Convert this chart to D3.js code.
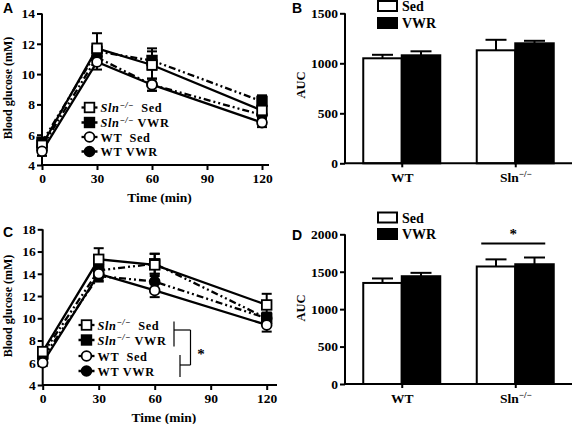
<!DOCTYPE html>
<html><head><meta charset="utf-8">
<script src="https://cdn.jsdelivr.net/npm/d3@7"></script>
<style>body{margin:0;background:#fff}svg{display:block}</style>
</head><body>
<svg id="c" width="572" height="424"></svg>
<script>
// ---------- DATA ----------
const timePoints = [0, 30, 60, 120];
const timeTicks = [0, 30, 60, 90, 120];
const seriesKeys = ["SlnSed", "SlnVWR", "WTSed", "WTVWR"];
const seriesGeno = ["Sln", "Sln", "WT", "WT"];
const seriesCond = ["Sed", "VWR", "Sed", "VWR"];

// Panel A (mM)
const aSlnSed = [5.3, 11.7, 10.6, 7.6];
const aSlnSedErr = [0.3, 1.0, 1.1, 0.4];
const aSlnVWR = [5.5, 11.5, 10.9, 8.2];
const aSlnVWRErr = [0.3, 0.5, 0.6, 0.4];
const aWTSed = [4.9, 10.8, 9.3, 6.8];
const aWTSedErr = [0.3, 0.5, 0.4, 0.3];
const aWTVWR = [5.2, 11.1, 9.3, 7.3];
const aWTVWRErr = [0.3, 0.4, 0.4, 0.3];
const aYTicks = [4, 6, 8, 10, 12, 14];

// Panel C (mM)
const cSlnSed = [7.0, 15.3, 14.8, 11.2];
const cSlnSedErr = [0.3, 1.0, 1.0, 1.0];
const cSlnVWR = [6.8, 14.3, 14.9, 10.0];
const cSlnVWRErr = [0.3, 0.5, 0.9, 0.5];
const cWTSed = [6.0, 14.0, 12.5, 9.4];
const cWTSedErr = [0.3, 0.6, 0.6, 0.6];
const cWTVWR = [6.4, 13.8, 13.3, 10.0];
const cWTVWRErr = [0.3, 0.5, 0.7, 0.5];
const cYTicks = [4, 6, 8, 10, 12, 14, 16, 18];

// Bar panels
const barGroups = ["WT", "Sln"];
const barConds = ["Sed", "VWR"];
const bSed = [1050, 1130];
const bSedErr = [35, 105];
const bVWR = [1080, 1200];
const bVWRErr = [40, 25];
const bYTicks = [0, 500, 1000, 1500];
const dSed = [1350, 1570];
const dSedErr = [60, 95];
const dVWR = [1440, 1600];
const dVWRErr = [45, 90];
const dYTicks = [0, 500, 1000, 1500, 2000];

// ---------- DRAW ----------
const svg = d3.select("#c");
const SERIF = "'Liberation Serif','Times New Roman',serif";
const SANS = "'Liberation Sans',Arial,sans-serif";
const TICK_FS = 13.5;

function panelLetter(x, y, t) {
  svg.append("text").attr("x", x).attr("y", y).text(t)
    .attr("font-family", SANS).attr("font-weight", "bold").attr("font-size", 14);
}

function styleAxis(g) {
  g.selectAll("path.domain").remove();
  g.selectAll(".tick line").attr("stroke", "#000").attr("stroke-width", 2);
  g.selectAll(".tick text").attr("font-family", SERIF).attr("font-weight", "bold")
    .attr("font-size", TICK_FS).attr("fill", "#000");
}

function linePanel(opt) {
  const x = d3.scaleLinear().domain([0, 120]).range([opt.x0, opt.x1]);
  const y = d3.scaleLinear().domain(opt.yDom).range([opt.yb, opt.yt]);
  const g = svg.append("g");
  const gx = g.append("g").attr("transform", `translate(0,${opt.yb})`)
    .call(d3.axisBottom(x).tickValues(timeTicks).tickSize(5).tickPadding(3));
  styleAxis(gx);
  const gy = g.append("g").attr("transform", `translate(${opt.x0},0)`)
    .call(d3.axisLeft(y).tickValues(opt.yTicks).tickSize(5).tickPadding(2));
  styleAxis(gy);
  g.append("line").attr("x1", opt.x0).attr("x2", opt.xEnd).attr("y1", opt.yb).attr("y2", opt.yb)
    .attr("stroke", "#000").attr("stroke-width", 2);
  g.append("line").attr("x1", opt.x0).attr("x2", opt.x0).attr("y1", opt.yb).attr("y2", opt.yt)
    .attr("stroke", "#000").attr("stroke-width", 2);
  g.append("text").attr("x", (opt.x0 + opt.xEnd) / 2 + 4).attr("y", opt.xTitleY)
    .attr("text-anchor", "middle").attr("font-family", SERIF).attr("font-weight", "bold")
    .attr("font-size", 13.5).text("Time (min)");
  g.append("text").attr("transform", `translate(${opt.yTitleX},${opt.yTitleCY}) rotate(-90)`)
    .attr("text-anchor", "middle").attr("font-family", SERIF).attr("font-weight", "bold")
    .attr("font-size", 12).text("Blood glucose (mM)");

  const dash = "7,3,2,3,2,3";
  const line = d3.line().x((d, i) => x(timePoints[i])).y(d => y(d));
  opt.series.forEach((s, k) => {
    g.append("path").attr("d", line(s.v)).attr("fill", "none").attr("stroke", "#000")
      .attr("stroke-width", 2.3).attr("stroke-dasharray", seriesCond[k] === "VWR" ? dash : null);
  });
  opt.series.forEach((s) => {
    s.v.forEach((v, i) => {
      const cx = x(timePoints[i]);
      const top = y(v + s.e[i]), bot = y(v - s.e[i]);
      g.append("line").attr("x1", cx).attr("x2", cx).attr("y1", top).attr("y2", bot)
        .attr("stroke", "#000").attr("stroke-width", 2);
      [top, bot].forEach(yy => g.append("line").attr("x1", cx - 5).attr("x2", cx + 5)
        .attr("y1", yy).attr("y2", yy).attr("stroke", "#000").attr("stroke-width", 2));
    });
  });
  function marker(sel, k, cx, cy) {
    const filled = seriesCond[k] === "VWR";
    if (seriesGeno[k] === "Sln") {
      sel.append("rect").attr("x", cx - 4.8).attr("y", cy - 4.8).attr("width", 9.6).attr("height", 9.6)
        .attr("fill", filled ? "#000" : "#fff").attr("stroke", "#000").attr("stroke-width", 1.8);
    } else {
      sel.append("circle").attr("cx", cx).attr("cy", cy).attr("r", 4.9)
        .attr("fill", filled ? "#000" : "#fff").attr("stroke", "#000").attr("stroke-width", 1.8);
    }
  }
  [1, 3, 0, 2].forEach(k => {
    opt.series[k].v.forEach((v, i) => marker(g, k, x(timePoints[i]), y(v)));
  });
  const labels = [["Sln", "\u2212/\u2212", "\u00a0\u00a0Sed"], ["Sln", "\u2212/\u2212", "\u00a0VWR"], ["WT", "", "\u00a0\u00a0Sed"], ["WT", "", "\u00a0VWR"]];
  opt.legendYs.forEach((ly, k) => {
    g.append("line").attr("x1", opt.legX - 8).attr("x2", opt.legX + 8).attr("y1", ly).attr("y2", ly)
      .attr("stroke", "#000").attr("stroke-width", 2.3)
      .attr("stroke-dasharray", seriesCond[k] === "VWR" ? "4,2" : null);
    marker(g, k, opt.legX, ly);
    const t = g.append("text").attr("x", opt.legX + 11).attr("y", ly + 4.5)
      .attr("font-family", SERIF).attr("font-weight", "bold").attr("font-size", 12.3)
      .attr("letter-spacing", 0.6);
    const L = labels[k];
    if (L[1]) {
      t.append("tspan").attr("font-style", "italic").text(L[0]);
      t.append("tspan").attr("dy", -4.5).attr("font-size", 8.5).attr("font-style", "italic").text(L[1]);
      t.append("tspan").attr("dy", 4.5).text(L[2]);
    } else {
      t.append("tspan").text(L[0] + L[2]);
    }
  });
  return { g, x, y };
}

function barPanel(opt) {
  const xp = d3.scalePoint().domain(barGroups).range([345, 572]).padding(0.5);
  const xi = d3.scaleBand().domain(barConds).range([-38.5, 38.5]);
  const y = d3.scaleLinear().domain(opt.yDom).range([opt.yb, opt.yt]);
  const g = svg.append("g");
  const vals = { Sed: opt.sed, VWR: opt.vwr };
  const errs = { Sed: opt.sedErr, VWR: opt.vwrErr };
  barGroups.forEach((grp, gi) => {
    barConds.forEach(c => {
      const bx = xp(grp) + xi(c);
      const w = xi.bandwidth();
      const v = vals[c][gi], e = errs[c][gi];
      const cx = bx + w / 2;
      g.append("line").attr("x1", cx).attr("x2", cx).attr("y1", y(v)).attr("y2", y(v + e))
        .attr("stroke", "#000").attr("stroke-width", 2);
      g.append("line").attr("x1", cx - 10.5).attr("x2", cx + 10.5).attr("y1", y(v + e)).attr("y2", y(v + e))
        .attr("stroke", "#000").attr("stroke-width", 2);
      g.append("rect").attr("x", bx).attr("y", y(v)).attr("width", w).attr("height", opt.yb - y(v))
        .attr("fill", c === "Sed" ? "#fff" : "#000").attr("stroke", "#000").attr("stroke-width", 2);
    });
  });
  const gy = g.append("g").attr("transform", `translate(345,0)`)
    .call(d3.axisLeft(y).tickValues(opt.yTicks).tickFormat(d3.format("d")).tickSize(5).tickPadding(2));
  styleAxis(gy);
  const gx = g.append("g").attr("transform", `translate(0,${opt.yb})`)
    .call(d3.axisBottom(xp).tickSize(4).tickPadding(6).tickFormat(() => ""));
  styleAxis(gx);
  gx.selectAll(".tick").each(function (d) {
    const t = d3.select(this).append("text").attr("y", 19).attr("text-anchor", "middle")
      .attr("font-family", SERIF).attr("font-weight", "bold").attr("font-size", TICK_FS).attr("fill", "#000");
    if (d === "Sln") {
      t.append("tspan").text("Sln");
      t.append("tspan").attr("dy", -5).attr("font-size", 9).text("\u2212/\u2212");
    } else t.text(d);
  });
  g.append("line").attr("x1", 345).attr("x2", 572).attr("y1", opt.yb).attr("y2", opt.yb)
    .attr("stroke", "#000").attr("stroke-width", 2);
  g.append("line").attr("x1", 345).attr("x2", 345).attr("y1", opt.yb).attr("y2", opt.yt)
    .attr("stroke", "#000").attr("stroke-width", 2);
  g.append("text").attr("transform", `translate(305,${opt.yTitleCY}) rotate(-90)`)
    .attr("text-anchor", "middle").attr("font-family", SERIF).attr("font-weight", "bold")
    .attr("font-size", 12.5).text("AUC");
  opt.legYs.forEach((ly, k) => {
    g.append("rect").attr("x", 378).attr("y", ly).attr("width", 19).attr("height", 10)
      .attr("fill", k === 0 ? "#fff" : "#000").attr("stroke", "#000").attr("stroke-width", 2);
    g.append("text").attr("x", 402).attr("y", ly + 10).attr("font-family", SERIF)
      .attr("font-weight", "bold").attr("font-size", 14).text(barConds[k]);
  });
  return { g, xp, xi, y };
}

// Panel A
linePanel({
  x0: 42, x1: 262, xEnd: 269, yb: 165, yt: 13.5, yDom: [4, 14], yTicks: aYTicks,
  xTitleY: 202, yTitleX: 12, yTitleCY: 88,
  series: [{ v: aSlnSed, e: aSlnSedErr }, { v: aSlnVWR, e: aSlnVWRErr }, { v: aWTSed, e: aWTSedErr }, { v: aWTVWR, e: aWTVWRErr }],
  legX: 89.5, legendYs: [107.5, 122.5, 137, 151.5]
});
panelLetter(3, 13, "A");

// Panel C
const C = linePanel({
  x0: 42.7, x1: 266.7, xEnd: 277, yb: 385, yt: 229.3, yDom: [4, 18], yTicks: cYTicks,
  xTitleY: 422, yTitleX: 12, yTitleCY: 306,
  series: [{ v: cSlnSed, e: cSlnSedErr }, { v: cSlnVWR, e: cSlnVWRErr }, { v: cWTSed, e: cWTSedErr }, { v: cWTVWR, e: cWTVWRErr }],
  legX: 86.5, legendYs: [325, 340, 356, 371]
});
panelLetter(3, 237, "C");
const br = [[174, 321.5, 174, 346.5], [174, 330, 190.5, 330], [190.5, 330, 190.5, 365], [180, 365, 190.5, 365], [180, 355, 180, 377]];
br.forEach(b => C.g.append("line").attr("x1", b[0]).attr("y1", b[1]).attr("x2", b[2]).attr("y2", b[3])
  .attr("stroke", "#000").attr("stroke-width", 1.2));
C.g.append("text").attr("x", 201).attr("y", 359).attr("text-anchor", "middle")
  .attr("font-family", SERIF).attr("font-weight", "bold").attr("font-size", 15).text("*");

// Panel B
barPanel({ yb: 163.3, yt: 13.3, yDom: [0, 1500], yTicks: bYTicks, sed: bSed, sedErr: bSedErr, vwr: bVWR, vwrErr: bVWRErr,
  yTitleCY: 85, legYs: [1, 18] });
panelLetter(292, 13, "B");

// Panel D
const D = barPanel({ yb: 384, yt: 234.3, yDom: [0, 2000], yTicks: dYTicks, sed: dSed, sedErr: dSedErr, vwr: dVWR, vwrErr: dVWRErr,
  yTitleCY: 308, legYs: [212.5, 229] });
panelLetter(292, 240, "D");
D.g.append("line").attr("x1", D.xp("Sln") - 34).attr("x2", D.xp("Sln") + 30).attr("y1", 243.5).attr("y2", 243.5)
  .attr("stroke", "#000").attr("stroke-width", 2);
D.g.append("text").attr("x", D.xp("Sln") - 2).attr("y", 239).attr("text-anchor", "middle")
  .attr("font-family", SERIF).attr("font-weight", "bold").attr("font-size", 15).text("*");
</script>
</body></html>
